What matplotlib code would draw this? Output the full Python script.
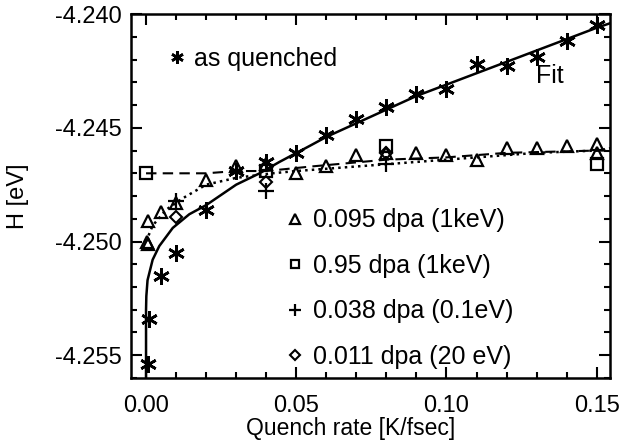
import numpy as np
import matplotlib
matplotlib.use("Agg")
import matplotlib.pyplot as plt

plt.rcParams['font.family'] = ['Liberation Sans', 'DejaVu Sans']

# as quenched (asterisks)
x_quench = [0.0005, 0.001, 0.005, 0.01, 0.02, 0.03, 0.04, 0.05, 0.06, 0.07,
            0.08, 0.09, 0.10, 0.11, 0.12, 0.13, 0.14, 0.15]
h_quench = [-4.2554, -4.2534, -4.2515, -4.2505, -4.2486, -4.2469, -4.2465, -4.2461,
            -4.2453, -4.2446, -4.2441, -4.2435, -4.2433, -4.2422, -4.2423, -4.2419,
            -4.2412, -4.2405]

# fit curve (solid)
x_fit = [0.0, 0.0, 0.0001, 0.0005, 0.0022, 0.0044, 0.0089, 0.0144, 0.02, 0.03,
         0.0378, 0.0444, 0.0544, 0.06, 0.07, 0.08, 0.09, 0.10, 0.11, 0.12, 0.13,
         0.14, 0.15, 0.1545]
h_fit = [-4.2560, -4.2530, -4.2524, -4.2517, -4.2508, -4.2502, -4.2494, -4.2488,
         -4.2484, -4.2475, -4.2470, -4.2465, -4.2458, -4.2454, -4.2448, -4.2442,
         -4.2436, -4.2431, -4.2426, -4.2421, -4.2416, -4.2411, -4.2406, -4.2404]

# 0.095 dpa (1keV)
x_tri = [0.0005, 0.0003, 0.0008, 0.005, 0.01, 0.02, 0.03, 0.04, 0.05, 0.06, 0.07,
         0.08, 0.09, 0.10, 0.11, 0.12, 0.13, 0.14, 0.15, 0.15]
h_tri = [-4.2491, -4.2500, -4.2501, -4.2487, -4.2483, -4.2473, -4.2467, -4.2466,
         -4.2470, -4.2467, -4.2462, -4.2461, -4.2461, -4.2462, -4.2464, -4.2459,
         -4.2459, -4.2458, -4.2457, -4.2461]
# dotted curve through the triangles
x_dot = [0.0, 0.0022, 0.0067, 0.0122, 0.02, 0.03, 0.042, 0.05, 0.07, 0.09, 0.11,
         0.13, 0.15, 0.1545]
h_dot = [-4.2500, -4.2493, -4.2486, -4.2481, -4.2475, -4.2472, -4.2470, -4.2469,
         -4.2467, -4.2465, -4.2463, -4.2461, -4.2460, -4.2459]

# 0.95 dpa (1keV)
x_sq = [0.0, 0.04, 0.08, 0.15]
h_sq = [-4.2470, -4.2469, -4.2458, -4.2466]
# dashed line
x_dash = [0.0, 0.02, 0.03, 0.04, 0.055, 0.08, 0.10, 0.12, 0.15, 0.1545]
h_dash = [-4.2470, -4.2470, -4.2469, -4.2469, -4.2467, -4.2464, -4.2463, -4.2461,
          -4.2460, -4.2460]

# 0.038 dpa (0.1eV)
x_plus = [0.01, 0.04, 0.08]
h_plus = [-4.2482, -4.2478, -4.2466]

# 0.011 dpa (20 eV)
x_dia = [0.01, 0.04, 0.08]
h_dia = [-4.2489, -4.2474, -4.2461]

fig = plt.figure(figsize=(6.23, 4.41), dpi=100)
ax = fig.add_axes([0.2103, 0.1429, 0.979 - 0.2103, 0.968 - 0.1429])

lw = 1.8
ast = (6, 2, 0)
ax.plot(x_fit, h_fit, '-', color='black', lw=lw)
ax.plot(x_dot, h_dot, ':', color='black', lw=lw)
ax.plot(x_dash, h_dash, '--', color='black', lw=1.5, dashes=(5, 3))

q, = ax.plot(x_quench, h_quench, ls='none', marker=ast, ms=12, mew=1.9,
             color='black', label='as quenched')
t, = ax.plot(x_tri, h_tri, ls='none', marker='^', ms=9, mew=1.6, mfc='none',
             color='black', label='0.095 dpa (1keV)')
s, = ax.plot(x_sq, h_sq, ls='none', marker='s', ms=8, mew=1.6, mfc='none',
             color='black', label='0.95 dpa (1keV)')
p, = ax.plot(x_plus, h_plus, ls='none', marker='+', ms=11, mew=1.6,
             color='black', label='0.038 dpa (0.1eV)')
d, = ax.plot(x_dia, h_dia, ls='none', marker='D', ms=6, mew=1.5, mfc='none',
             color='black', label='0.011 dpa (20 eV)')

ax.text(0.1298, -4.2427, 'Fit', fontsize=18, va='center', ha='left')

leg1 = ax.legend(handles=[q], loc='upper left', bbox_to_anchor=(0.075, 0.91),
                 frameon=False, fontsize=18, handlelength=0.8, handletextpad=0.3,
                 borderpad=0, borderaxespad=0, markerscale=0.75)
ax.add_artist(leg1)
ax.legend(handles=[t, s, p, d], loc='upper left', bbox_to_anchor=(0.3225, 0.466),
          frameon=False, fontsize=18, handlelength=0.8, handletextpad=0.3,
          borderpad=0, borderaxespad=0, labelspacing=0.86, markerscale=0.8)

ax.set_xlim(-0.005, 0.1544)
ax.set_ylim(-4.2560, -4.2400)
ax.set_xticks([0.0, 0.05, 0.10, 0.15])
ax.set_xticklabels(['0.00', '0.05', '0.10', '0.15'])
ax.set_yticks([-4.255, -4.250, -4.245, -4.240])
ax.set_yticklabels(['-4.255', '-4.250', '-4.245', '-4.240'])
ax.set_xticks(np.arange(0.0, 0.151, 0.01), minor=True)
ax.set_yticks(np.arange(-4.256, -4.2399, 0.001), minor=True)
ax.tick_params(which='both', direction='in', top=True, right=True,
               labelsize=17, width=1.5)
ax.tick_params(axis='x', which='major', pad=12)
ax.tick_params(axis='y', which='major', pad=7)
ax.tick_params(which='major', length=8)
ax.tick_params(which='minor', length=4.5)
for sp in ax.spines.values():
    sp.set_linewidth(1.8)

ax.set_xlabel('Quench rate [K/fsec]', fontsize=16.5)
ax.xaxis.set_label_coords(0.459, -0.108)
ax.set_ylabel('H [eV]', fontsize=17)
ax.yaxis.set_label_coords(-0.213, 0.5)

fig.savefig('out.png', dpi=100)
